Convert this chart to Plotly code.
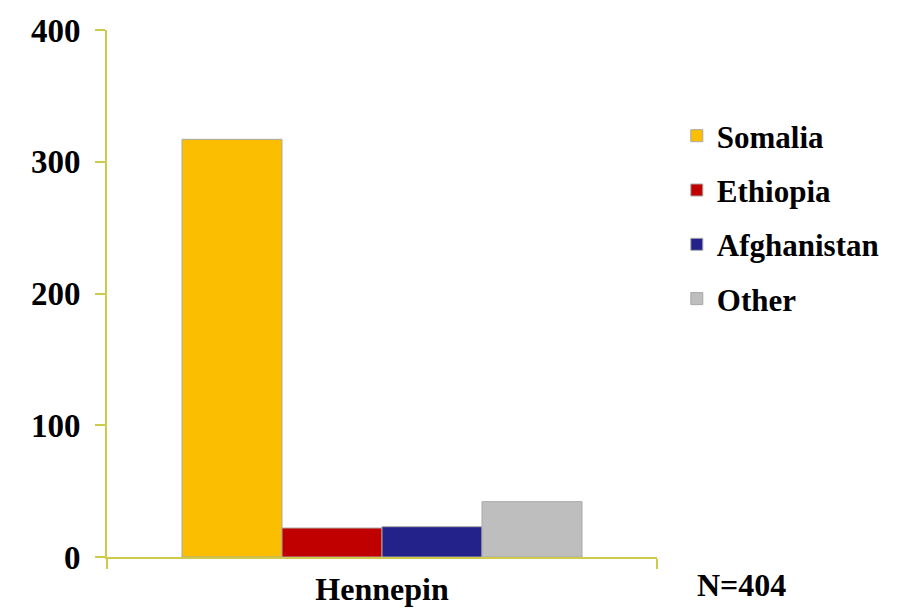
import plotly.graph_objects as go

categories = ["Hennepin"]
countries = ["Somalia", "Ethiopia", "Afghanistan", "Other"]
counts = [317, 22, 23, 42]
colors = ["#FCBE00", "#C00000", "#22228A", "#BEBEBE"]
y_ticks = [0, 100, 200, 300, 400]
note = "N=404"

FONT = "Liberation Serif"
AXC = "#CFCB4A"

fig = go.Figure()
for name, val, col in zip(countries, counts, colors):
    fig.add_trace(go.Bar(
        x=categories, y=[val], name=name, legendgroup=name,
        marker=dict(color=col, line=dict(color="#A8A8A8", width=1)),
    ))

fig.update_layout(
    width=893, height=600,
    margin=dict(l=99, r=244, t=22, b=51),
    paper_bgcolor="white", plot_bgcolor="white",
    barmode="group", bargap=0.2727, bargroupgap=0,
    font=dict(family=FONT, color="black"),
    showlegend=True,
    legend=dict(
        x=1.036, xanchor="left", y=0.85, yanchor="top",
        traceorder="grouped", tracegroupgap=11,
        font=dict(family=FONT, size=31, color="black", weight="bold"),
        itemwidth=30, bgcolor="rgba(0,0,0,0)",
    ),
    xaxis=dict(
        showline=True, linecolor=AXC, linewidth=2, automargin=False,
        ticks="outside", tickson="boundaries", ticklen=10, tickcolor=AXC, tickwidth=2,
        tickfont=dict(family=FONT, size=32, color="black", weight="bold"),
        showgrid=False, zeroline=False, ticklabelstandoff=3,
    ),
    yaxis=dict(
        range=[0, 400], tickvals=y_ticks, automargin=False,
        showline=True, linecolor=AXC, linewidth=2,
        ticks="outside", ticklen=10, tickcolor=AXC, tickwidth=2,
        tickfont=dict(family=FONT, size=33, color="black", weight="bold"),
        showgrid=False, zeroline=False, ticklabelstandoff=8,
    ),
    annotations=[dict(
        text=note, x=(733 - 99) / 550, y=-(577 - 549) / 527,
        xref="paper", yref="paper", xanchor="center", yanchor="middle",
        showarrow=False,
        font=dict(family=FONT, size=32, color="black", weight="bold"),
    )],
)

fig.write_html("out.html")
